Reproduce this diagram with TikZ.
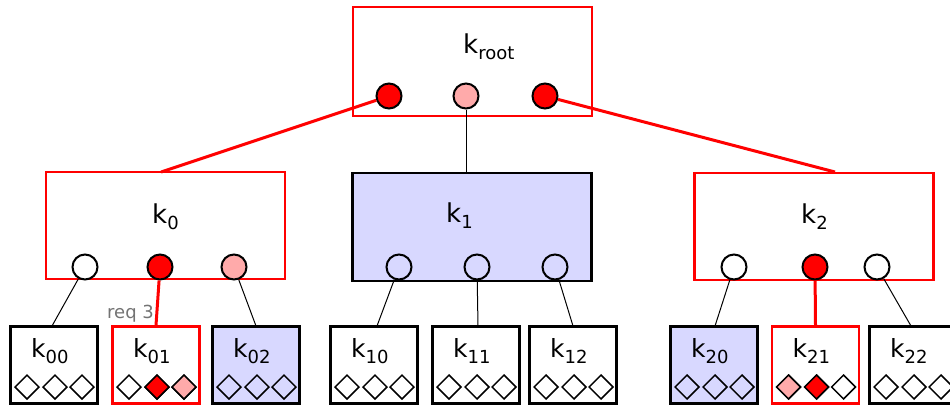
\documentclass[tikz,border=0pt]{standalone}
\usepackage{fontspec}
\setmainfont{DejaVu Sans}
\usetikzlibrary{shapes.geometric}
\definecolor{pinkc}{RGB}{255,170,170}
\definecolor{lav}{RGB}{216,216,255}
\newcommand\klab[1]{\fontsize{26}{26}\selectfont k\raisebox{-6pt}{\fontsize{18}{18}\selectfont #1}}
\newcommand\leaflab[1]{\fontsize{25}{25}\selectfont k\raisebox{-6pt}{\fontsize{18}{18}\selectfont #1}}
\tikzset{
  redbox/.style={draw=red, line width=2.4pt, rectangle, inner sep=0pt},
  blkbox/.style={draw=black, line width=2.6pt, rectangle, inner sep=0pt},
  bigbox/.style={minimum width=239pt, minimum height=107pt},
  leafbox/.style={minimum width=87pt, minimum height=77pt},
  circ/.style={circle, draw=black, line width=2pt, minimum size=25pt, inner sep=0pt, fill=white},
  dia/.style={diamond, draw=black, line width=1.5pt, minimum width=24.5pt, minimum height=24.5pt, inner sep=0pt, aspect=1},
  thin/.style={draw=black, line width=1pt},
  redline/.style={draw=red, line width=3pt},
  lab/.style={inner sep=0pt, anchor=base west},
}
\begin{document}
\begin{tikzpicture}[x=1pt,y=-1pt]
\useasboundingbox (0,0) rectangle (950,407);
% main boxes
\node[redbox, minimum width=239pt, minimum height=109pt] (root) at (472.5,61.5) {};
\node[redbox, bigbox] (k0) at (165.5,225.5) {};
\node[blkbox, bigbox, fill=lav, minimum height=108pt] (k1) at (472,227) {};
\node[redbox, bigbox] (k2) at (814,226.5) {};
% labels
\node[lab] (lroot) at (463,53) {\fontsize{26}{26}\selectfont k\raisebox{-6pt}{\fontsize{18}{18}\selectfont root}};
\node[lab] (l0) at (152,223) {\klab{0}};
\node[lab] (l1) at (446,222) {\klab{1}};
\node[lab] (l2) at (801,223) {\klab{2}};
% leaves
\foreach \n/\x/\st/\fl in {k00/54/blkbox/white, k01/156/redbox/white, k02/256/blkbox/lav,
  k10/374/blkbox/white, k11/476/blkbox/white, k12/573/blkbox/white,
  k20/714/blkbox/lav, k21/815.5/redbox/white, k22/913/blkbox/white}{
  \node[\st, leafbox, fill=\fl] (\n) at (\x,365) {};
}
\foreach \n/\x/\s in {k00/54/00, k01/156/01, k02/256/02, k10/374/10, k11/476/11, k12/573/12, k20/714/20, k21/815.5/21, k22/913/22}{
  \node[lab] (\n lab) at (\x-23,357) {\leaflab{\s}};
  \node[dia] (\n d1) at (\x-27,387) {};
  \node[dia] (\n d2) at (\x+1,387) {};
  \node[dia] (\n d3) at (\x+28,387) {};
}
\node[dia, fill=red] at (k01d2) {};
\node[dia, fill=pinkc] at (k01d3) {};
\node[dia, fill=pinkc] at (k21d1) {};
\node[dia, fill=red] at (k21d2) {};
% circles
\node[circ, fill=red] (r1) at (389,96) {};
\node[circ, fill=pinkc] (r2) at (466,96) {};
\node[circ, fill=red] (r3) at (545,96) {};
\node[circ] (c00) at (85,267) {};
\node[circ, fill=red] (c01) at (160,267) {};
\node[circ, fill=pinkc] (c02) at (234,267) {};
\node[circ, fill=none] (c10) at (399,267) {};
\node[circ, fill=none] (c11) at (477,267) {};
\node[circ, fill=none] (c12) at (555,267) {};
\node[circ] (c20) at (734,267) {};
\node[circ, fill=red] (c21) at (815,267) {};
\node[circ] (c22) at (877,267) {};
% connector ends
\coordinate (k0in) at (161,172);
\coordinate (k2in) at (835,172);
\coordinate (k1in) at (466,172);
\coordinate (k00in) at (52,326);
\coordinate (k02in) at (256,326);
\coordinate (k10in) at (377,326);
\coordinate (k11in) at (478,326);
\coordinate (k12in) at (573,326);
\coordinate (k20in) at (715,326);
\coordinate (k22in) at (911,326);
% connectors
\draw[redline] (r1) -- (k0in);
\draw[redline] (r3) -- (k2in);
\draw[thin] (r2) -- (k1in);
\draw[thin] (c00) -- (k00in);
\draw[redline] (c01) -- (k01.north);
\draw[thin] (c02) -- (k02in);
\draw[thin] (c10) -- (k10in);
\draw[thin] (c11) -- (k11in);
\draw[thin] (c12) -- (k12in);
\draw[thin] (c20) -- (k20in);
\draw[redline] (c21) -- (k21.north);
\draw[thin] (c22) -- (k22in);
\node[anchor=base west, inner sep=0pt, text=black!55] (req) at (107,318) {\fontsize{18}{18}\selectfont req 3};
\end{tikzpicture}
\end{document}
